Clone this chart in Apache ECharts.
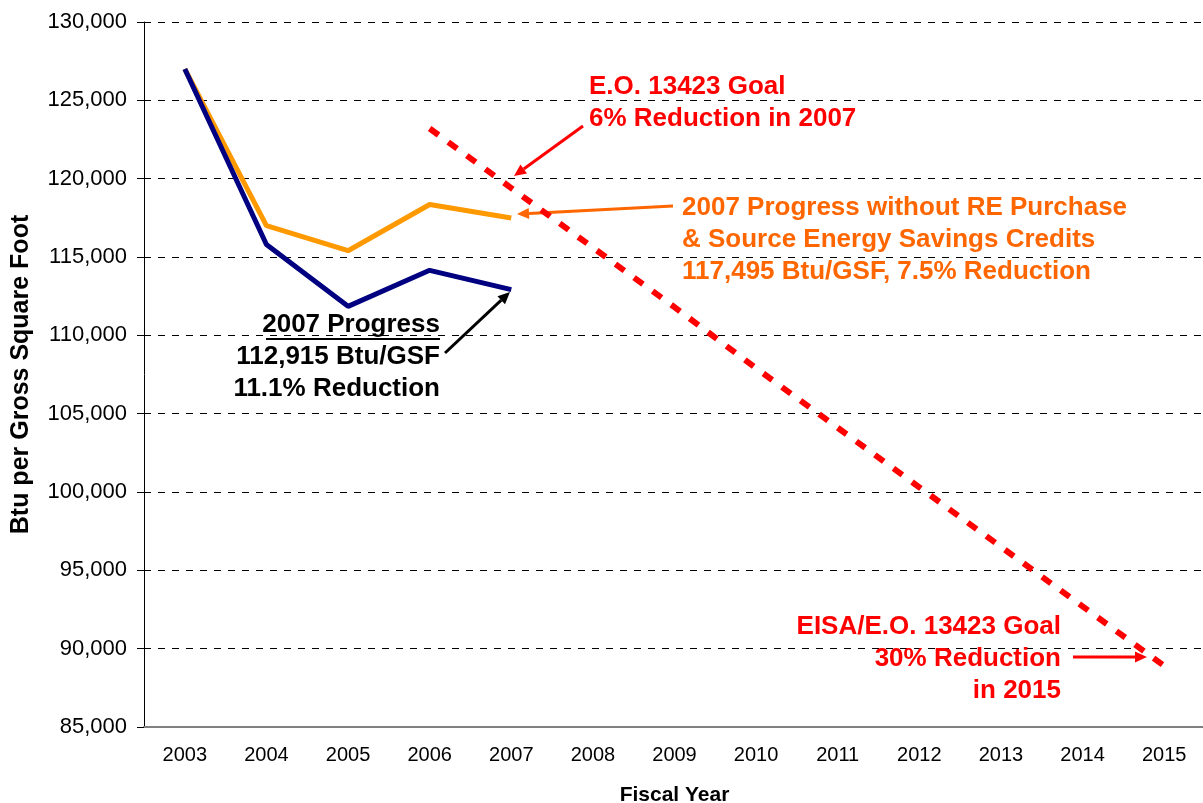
<!DOCTYPE html>
<html>
<head>
<meta charset="utf-8">
<script src="https://cdn.jsdelivr.net/npm/echarts@6/dist/echarts.min.js"></script>
<style>
  html, body { margin: 0; padding: 0; background: #fff; }
  #chart { width: 1203px; height: 803px; }
</style>
</head>
<body>
<div id="chart"></div>
<script>
// fiscal years on the x axis
const years = ['2003', '2004', '2005', '2006', '2007', '2008', '2009', '2010', '2011', '2012', '2013', '2014', '2015']
// Btu per gross square foot, with credits
const progress = [127000, 115800, 111850, 114150, 112915]
// without RE purchase & source energy savings credits
const progressNoCredits = [127000, 117000, 115400, 118350, 117495]
// E.O. 13423 / EISA goal path (starts 2006)
const goal = [null, null, null, 123200, 119400, 115600, 111800, 107900, 104100, 100300, 96500, 92700, 88900]

const FONT = '"Liberation Sans", Arial, sans-serif'

const chart = echarts.init(document.getElementById('chart'))

// line + triangle head, tip at (x2, y2)
function arrow(x1, y1, x2, y2, color) {
  const a = Math.atan2(y2 - y1, x2 - x1)
  const len = 12, w = 5.5
  const bx = x2 - len * Math.cos(a), by = y2 - len * Math.sin(a)
  const px = -Math.sin(a) * w, py = Math.cos(a) * w
  return [
    { type: 'line', shape: { x1: x1, y1: y1, x2: bx, y2: by }, style: { stroke: color, lineWidth: 3 } },
    { type: 'polygon', shape: { points: [[x2, y2], [bx + px, by + py], [bx - px, by - py]] }, style: { fill: color } }
  ]
}

function note(x, y, text, color, align) {
  return {
    type: 'text', x: x, y: y,
    style: {
      text: text, fill: color, font: 'bold 26px ' + FONT,
      align: align || 'left', verticalAlign: 'middle', lineHeight: 32
    }
  }
}

chart.setOption({
  animation: false,
  backgroundColor: '#fff',
  grid: { left: 144, top: 22, width: 1061, height: 705, outerBoundsMode: 'none' },
  xAxis: {
    type: 'category',
    data: years,
    name: 'Fiscal Year',
    nameLocation: 'middle',
    nameGap: 58,
    nameTextStyle: { fontFamily: FONT, fontWeight: 'bold', fontSize: 21, color: '#000' },
    axisLine: { lineStyle: { color: '#808080', width: 2 } },
    axisTick: { length: 6, lineStyle: { color: '#808080' } },
    axisLabel: { fontFamily: FONT, fontSize: 20, color: '#000', margin: 18 }
  },
  yAxis: {
    type: 'value',
    min: 85000,
    max: 130000,
    interval: 5000,
    name: 'Btu per Gross Square Foot',
    nameLocation: 'middle',
    nameGap: 110,
    nameTextStyle: { fontFamily: FONT, fontWeight: 'bold', fontSize: 25, color: '#000' },
    axisLine: { show: true, lineStyle: { color: '#000', width: 1 } },
    axisTick: { show: true, length: 7, lineStyle: { color: '#000' } },
    axisLabel: {
      fontFamily: FONT, fontSize: 22, color: '#000', margin: 17,
      formatter: v => v.toLocaleString('en-US')
    },
    splitLine: { lineStyle: { color: '#000', type: [7, 7], width: 1 } }
  },
  series: [
    {
      name: 'Goal',
      type: 'line',
      data: goal,
      showSymbol: false,
      lineStyle: { color: '#ff0000', width: 6, type: [11, 12] },
      z: 1
    },
    {
      name: 'Without credits',
      type: 'line',
      data: progressNoCredits,
      showSymbol: false,
      lineStyle: { color: '#ff9900', width: 5 },
      z: 2
    },
    {
      name: 'Progress',
      type: 'line',
      data: progress,
      showSymbol: false,
      lineStyle: { color: '#000080', width: 5 },
      z: 3
    }
  ]
})

chart.setOption({
  graphic: [
    note(589, 103, 'E.O. 13423 Goal\n6% Reduction in 2007', '#ff0000'),
    note(682, 240, '2007 Progress without RE Purchase\n& Source Energy Savings Credits\n117,495 Btu/GSF, 7.5% Reduction', '#ff6600'),
    note(440, 357, '2007 Progress\n112,915 Btu/GSF\n11.1% Reduction', '#000', 'right'),
    { type: 'line', shape: { x1: 266, y1: 339, x2: 440, y2: 339 }, style: { stroke: '#000', lineWidth: 2 } },
    note(1061, 659, 'EISA/E.O. 13423 Goal\n30% Reduction\nin 2015', '#ff0000', 'right'),
    ...arrow(583, 126, 514, 176, '#ff0000'),
    ...arrow(673, 206, 517, 214, '#ff6600'),
    ...arrow(445, 353, 510, 292, '#000'),
    ...arrow(1073, 657, 1147, 657, '#ff0000')
  ]
})
</script>
</body>
</html>
